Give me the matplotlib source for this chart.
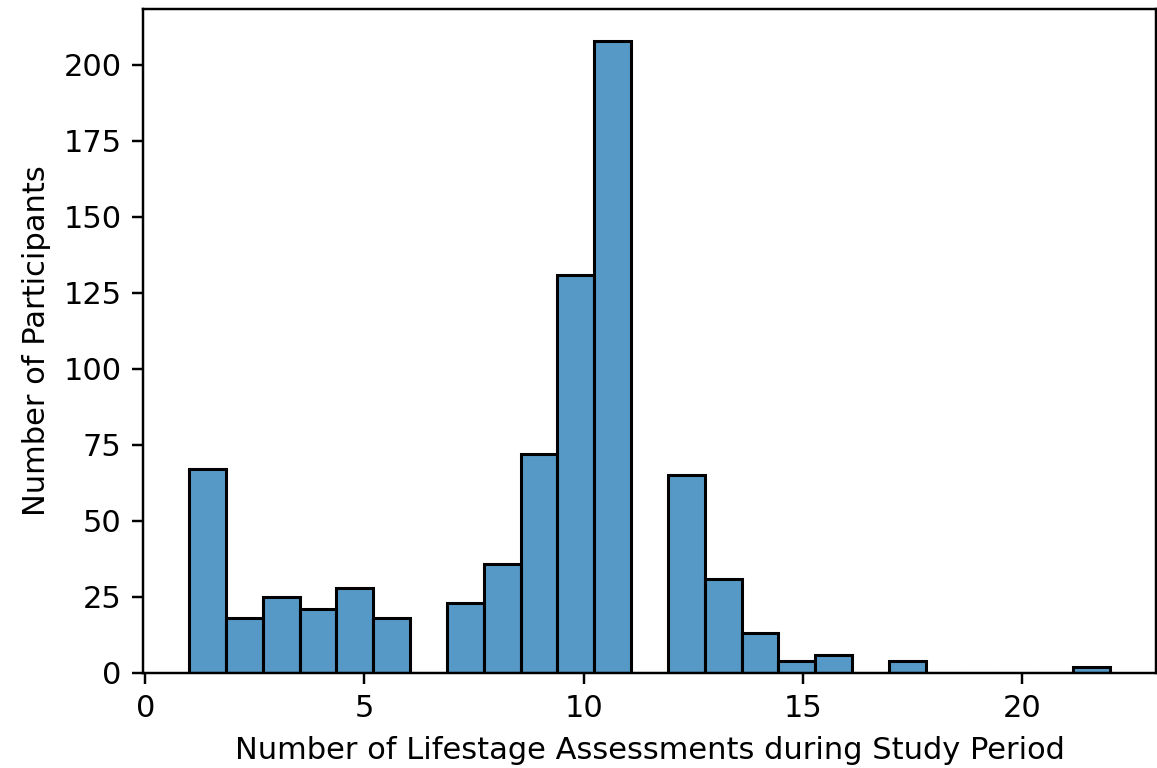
import numpy as np
import matplotlib
matplotlib.use("Agg")
import matplotlib.pyplot as plt
import seaborn as sns

# Number of assessments per participant and how many participants had it
assessments = [1, 2, 3, 4, 5, 6, 7, 8, 9, 10, 11, 12, 13, 14, 15, 16, 17, 22]
participants = [67, 18, 25, 21, 28, 18, 23, 36, 72, 131, 208, 65, 31, 13, 4, 6, 4, 2]

dpi = 220
fig = plt.figure(figsize=(1157 / dpi, 768 / dpi), dpi=dpi)
ax = fig.add_axes([143 / 1157, 1 - 673 / 768, 1013 / 1157, 664 / 768])

sns.histplot(x=assessments, weights=participants, bins=25, binrange=(1, 22), ax=ax)

ax.set_xlabel("Number of Lifestage Assessments during Study Period")
ax.set_ylabel("Number of Participants")

fig.savefig("out.png", dpi=dpi)
